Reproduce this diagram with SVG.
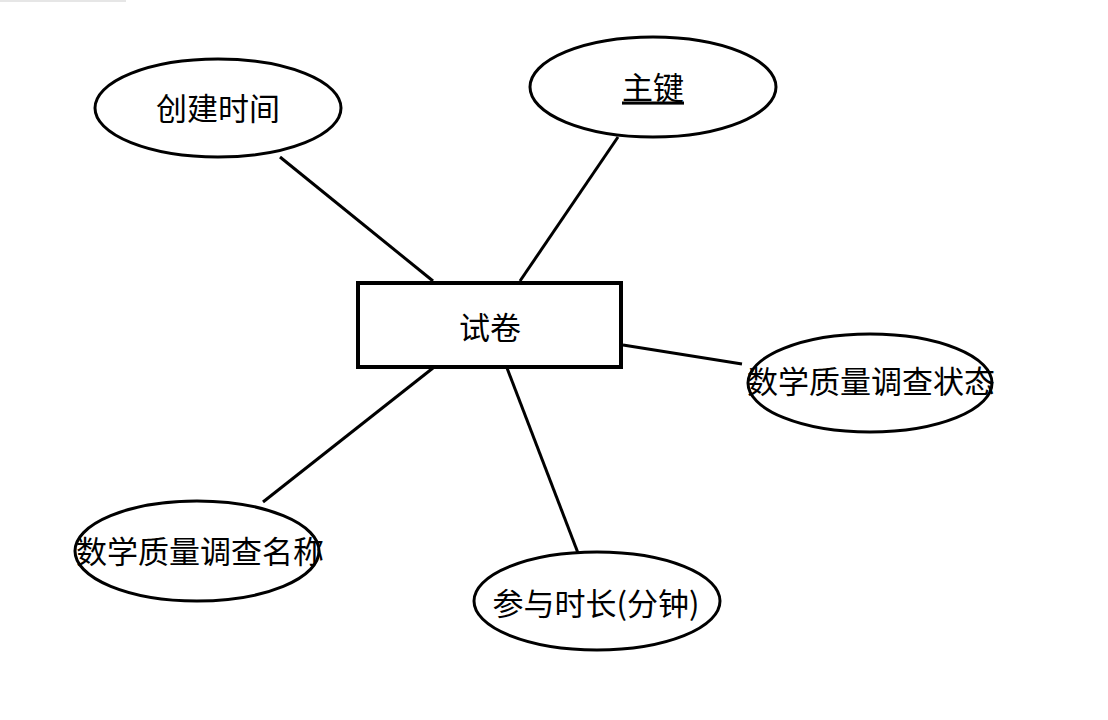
<svg xmlns="http://www.w3.org/2000/svg" width="1108" height="720" viewBox="0 0 1108 720">
<style>
.attr{fill:#ffffff;stroke:#000000;stroke-width:3}
.ent{fill:#ffffff;stroke:#000000;stroke-width:4}
.lbl{font-family:"Noto Sans CJK SC","Noto Sans",sans-serif;font-size:31px;fill:#000000;text-anchor:middle;dominant-baseline:central}
.conn line{stroke:#000000;stroke-width:3;stroke-linecap:butt}
</style>
<rect x="0" y="0" width="1108" height="720" fill="#ffffff"/>
<rect x="0" y="0" width="126" height="2" fill="#e6e6e6"/>
<g id="connectors" class="conn">
<line x1="280" y1="157" x2="433" y2="281"/>
<line x1="618" y1="137" x2="520" y2="281"/>
<line x1="623" y1="345" x2="742" y2="364"/>
<line x1="433" y1="368" x2="263" y2="502"/>
<line x1="507" y1="368" x2="578" y2="553"/>
</g>
<g id="node-shijuan">
<rect class="ent" x="358" y="283" width="263" height="84"/>
<text class="lbl" x="490" y="325">试卷</text>
</g>
<g id="node-chuangjian">
<ellipse class="attr" cx="218" cy="108" rx="123" ry="49"/>
<text class="lbl" x="218" y="106">创建时间</text>
</g>
<g id="node-zhujian">
<ellipse class="attr" cx="653" cy="87" rx="123" ry="50"/>
<text class="lbl" x="653" y="85" text-decoration="underline">主键</text>
</g>
<g id="node-zhuangtai">
<ellipse class="attr" cx="870" cy="383" rx="122" ry="49"/>
<text class="lbl" x="871" y="379">数学质量调查状态</text>
</g>
<g id="node-mingcheng">
<ellipse class="attr" cx="197" cy="551" rx="122" ry="50"/>
<text class="lbl" x="200" y="549">数学质量调查名称</text>
</g>
<g id="node-shichang">
<ellipse class="attr" cx="597" cy="601" rx="123" ry="49"/>
<text class="lbl" x="596" y="601">参与时长(分钟)</text>
</g>
</svg>
